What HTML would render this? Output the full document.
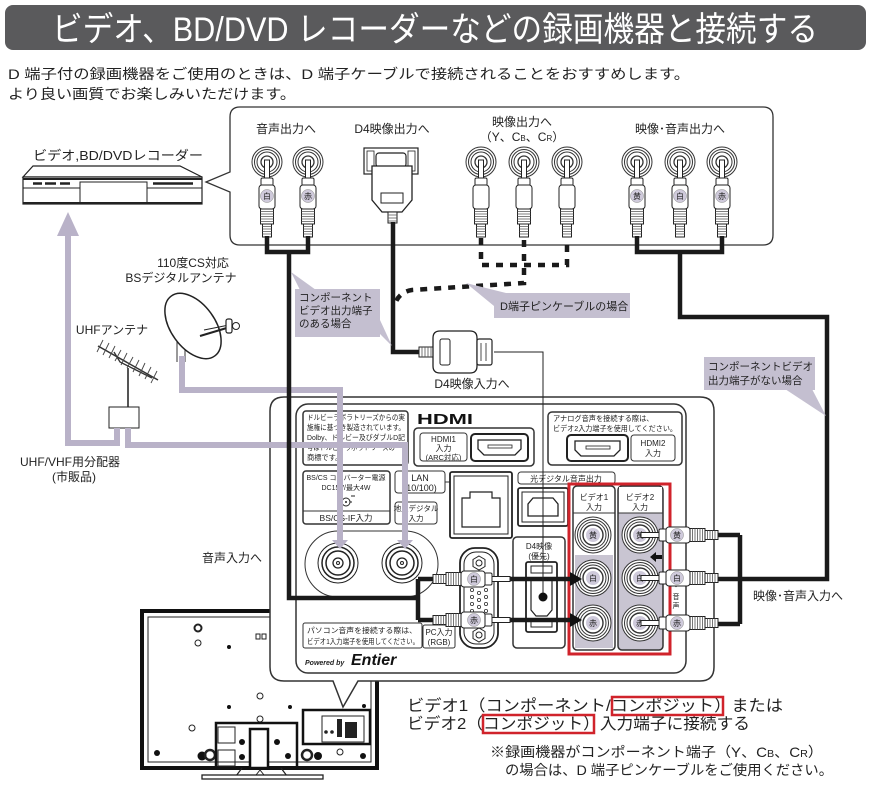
<!DOCTYPE html>
<html><head><meta charset="utf-8"><style>
html,body{margin:0;padding:0;background:#fff;}
svg{display:block;}
text{font-family:"Liberation Sans","Noto Sans CJK JP",sans-serif;fill:#222;}
</style></head><body>
<svg xmlns="http://www.w3.org/2000/svg" xmlns:xlink="http://www.w3.org/1999/xlink" width="872" height="805" viewBox="0 0 872 805">
<defs>
<g id="plug">
 <rect x="-2.5" y="-2" width="5" height="20" fill="#fff" stroke="#222" stroke-width="1"/>
 <rect x="-6" y="16" width="12" height="8" rx="1.5" fill="#fff" stroke="#222"/>
 <rect x="-8" y="23" width="16" height="24" rx="3" fill="#fff" stroke="#222"/>
 <rect x="-6.5" y="47" width="13" height="15" fill="#fff" stroke="#222"/>
 <path d="M-6.5,49.5H6.5M-6.5,52H6.5M-6.5,54.5H6.5M-6.5,57H6.5M-6.5,59.5H6.5" stroke="#555" stroke-width="0.8"/>
 <rect x="-4.5" y="62" width="9" height="13" fill="#fff" stroke="#222"/>
 <path d="M-4.5,64.5H4.5M-4.5,67H4.5M-4.5,69.5H4.5M-4.5,72H4.5" stroke="#555" stroke-width="0.8"/>
</g>
<g id="jk">
 <circle r="15" fill="#fff" stroke="#333" stroke-width="1"/>
 <circle r="12.5" fill="none" stroke="#333" stroke-width="1"/>
 <circle r="10" fill="none" stroke="#333" stroke-width="1"/>
 <circle r="6" fill="#fff" stroke="#333" stroke-width="1.3"/>
</g>
<g id="tj">
 <circle r="18" fill="#fff" stroke="#333" stroke-width="1"/>
 <circle r="15.5" fill="none" stroke="#333" stroke-width="1"/>
 <circle r="13" fill="none" stroke="#333" stroke-width="1"/>
 <circle r="10" fill="#fff" stroke="#333" stroke-width="1.4"/>
 <circle r="7" fill="#cfcadb"/>
</g>
<g id="lbl"><circle r="6.5" fill="#cfcadb" stroke="#888" stroke-width="0.5"/></g>
</defs>

<!-- Title -->
<rect x="5" y="5" width="861" height="45" rx="8" fill="#5a5a5c"/>
<text x="52" y="41" font-size="34" style="fill:#fff" textLength="766" lengthAdjust="spacingAndGlyphs">ビデオ、BD/DVD レコーダーなどの録画機器と接続する</text>
<text x="8" y="79" font-size="14" textLength="682" lengthAdjust="spacingAndGlyphs">D 端子付の録画機器をご使用のときは、D 端子ケーブルで接続されることをおすすめします。</text>
<text x="8" y="99" font-size="14" textLength="288" lengthAdjust="spacingAndGlyphs">より良い画質でお楽しみいただけます。</text>

<!-- Recorder -->
<text x="33" y="160" font-size="13" textLength="170" lengthAdjust="spacingAndGlyphs">ビデオ,BD/DVDレコーダー</text>
<polygon points="33,166 180,166 202,177 23,177" fill="#fff" stroke="#222" stroke-width="1.2"/>
<rect x="23" y="177" width="179" height="27" fill="#fff" stroke="#222" stroke-width="1.2"/>
<line x1="23" y1="179" x2="202" y2="179" stroke="#222" stroke-width="2"/>
<line x1="23" y1="188" x2="80" y2="188" stroke="#222" stroke-width="1"/>
<line x1="147" y1="188" x2="202" y2="188" stroke="#222" stroke-width="1"/>
<rect x="80" y="182" width="67" height="22" fill="none" stroke="#222" stroke-width="1"/>
<path d="M33,183.5H42M45,183.5H56M60,183.5H70M153,183.5H193" stroke="#222" stroke-width="2.5"/>
<line x1="23" y1="203" x2="202" y2="203" stroke="#222" stroke-width="2"/>

<!-- Top callout box -->
<path d="M240,107 H763 Q773,107 773,117 V235 Q773,245 763,245 H240 Q230,245 230,235 V192 L206,182 L230,172 V117 Q230,107 240,107 Z" fill="#fff" stroke="#333" stroke-width="1.3"/>
<text x="286" y="133" font-size="12" text-anchor="middle">音声出力へ</text>
<text x="392" y="133" font-size="12" text-anchor="middle">D4映像出力へ</text>
<text x="522" y="126" font-size="12" text-anchor="middle">映像出力へ</text>
<text x="522" y="141" font-size="12" text-anchor="middle">（Y、C<tspan font-size="8">B</tspan>、C<tspan font-size="8">R</tspan>）</text>
<text x="680" y="133" font-size="12" text-anchor="middle">映像･音声出力へ</text>

<use xlink:href="#jk" transform="translate(267,162)"/>
<use xlink:href="#jk" transform="translate(308,162)"/>
<use xlink:href="#jk" transform="translate(481,162)"/>
<use xlink:href="#jk" transform="translate(524,162)"/>
<use xlink:href="#jk" transform="translate(567,162)"/>
<use xlink:href="#jk" transform="translate(637,162)"/>
<use xlink:href="#jk" transform="translate(680,162)"/>
<use xlink:href="#jk" transform="translate(722,162)"/>
<use xlink:href="#plug" transform="translate(267,162)"/>
<use xlink:href="#plug" transform="translate(308,162)"/>
<use xlink:href="#plug" transform="translate(481,162)"/>
<use xlink:href="#plug" transform="translate(524,162)"/>
<use xlink:href="#plug" transform="translate(567,162)"/>
<use xlink:href="#plug" transform="translate(637,162)"/>
<use xlink:href="#plug" transform="translate(680,162)"/>
<use xlink:href="#plug" transform="translate(722,162)"/>
<use xlink:href="#lbl" transform="translate(267,196)"/>
<use xlink:href="#lbl" transform="translate(308,196)"/>
<use xlink:href="#lbl" transform="translate(637,196)"/>
<use xlink:href="#lbl" transform="translate(680,196)"/>
<use xlink:href="#lbl" transform="translate(722,196)"/>
<g font-size="8" text-anchor="middle">
<text x="267" y="199">白</text><text x="308" y="199">赤</text>
<text x="637" y="199">黄</text><text x="680" y="199">白</text><text x="722" y="199">赤</text>
</g>

<!-- D4 plug top -->
<rect x="364" y="148" width="54" height="26" fill="#fff" stroke="#222" stroke-width="1.2"/>
<rect x="367" y="151" width="7" height="20" fill="none" stroke="#222" stroke-width="0.8"/>
<rect x="408" y="151" width="7" height="20" fill="none" stroke="#222" stroke-width="0.8"/>
<rect x="376" y="153" width="30" height="14" rx="3" fill="#fff" stroke="#222" stroke-width="1.2"/>
<path d="M372,166 H412 V200 L402,212 H382 L372,200 Z" fill="#fff" stroke="#222" stroke-width="1.3"/>
<rect x="381" y="193" width="22" height="10" fill="none" stroke="#222" stroke-width="1"/>
<rect x="388" y="212" width="9" height="11" fill="#fff" stroke="#222" stroke-width="1"/>
<path d="M388,215H397M388,218H397M388,221H397" stroke="#555" stroke-width="0.8"/>

<!-- Antennas -->
<text x="193" y="267" font-size="12" text-anchor="middle">110度CS対応</text>
<text x="181" y="282" font-size="12" text-anchor="middle">BSデジタルアンテナ</text>
<text x="112" y="334" font-size="12" text-anchor="middle">UHFアンテナ</text>
<line x1="177" y1="340" x2="177" y2="362" stroke="#333" stroke-width="1"/>
<line x1="185" y1="338" x2="185" y2="362" stroke="#333" stroke-width="1"/>
<ellipse cx="193" cy="326" rx="22" ry="37" transform="rotate(-36 193 326)" fill="#fff" stroke="#222" stroke-width="1.5"/>
<line x1="200" y1="336" x2="230" y2="327" stroke="#222" stroke-width="2"/>
<line x1="204" y1="330" x2="229" y2="325" stroke="#222" stroke-width="1"/>
<rect x="226" y="319" width="6" height="14" rx="2" fill="#fff" stroke="#222" stroke-width="1.2"/>
<circle cx="236" cy="326" r="3.5" fill="#fff" stroke="#222" stroke-width="1"/>
<!-- UHF antenna -->
<line x1="98" y1="346" x2="158" y2="380" stroke="#333" stroke-width="1.5"/>
<path d="M114,352 L120,362 L152,378" fill="none" stroke="#333" stroke-width="1.3"/>
<g stroke="#444" stroke-width="0.9">
<line x1="97" y1="352" x2="103" y2="340"/><line x1="103" y1="355" x2="109" y2="343"/><line x1="109" y1="358" x2="115" y2="346"/><line x1="115" y1="361" x2="121" y2="350"/><line x1="121" y1="365" x2="127" y2="353"/><line x1="127" y1="368" x2="133" y2="357"/><line x1="133" y1="372" x2="139" y2="360"/><line x1="139" y1="376" x2="145" y2="363"/><line x1="145" y1="379" x2="151" y2="367"/><line x1="151" y1="383" x2="157" y2="371"/>
</g>
<line x1="128" y1="368" x2="128" y2="407" stroke="#555" stroke-width="2"/>
<rect x="109" y="407" width="30" height="21" fill="#fff" stroke="#222" stroke-width="1"/>
<text x="70" y="466" font-size="12" text-anchor="middle">UHF/VHF用分配器</text>
<text x="74" y="481" font-size="12" text-anchor="middle">(市販品)</text>

<!-- TV back -->
<rect x="142" y="611" width="235" height="157" fill="#fff" stroke="#111" stroke-width="4"/>
<rect x="148" y="617" width="223" height="145" fill="none" stroke="#222" stroke-width="1"/>
<g fill="#111">
<circle cx="229" cy="647" r="2"/><circle cx="229" cy="707" r="2"/><circle cx="290" cy="707" r="2"/><circle cx="364" cy="706" r="2"/>
<circle cx="157" cy="753" r="3"/><circle cx="202" cy="756" r="4.5"/><circle cx="242" cy="757" r="3"/><circle cx="242" cy="742" r="3"/>
<circle cx="277" cy="742" r="3"/><circle cx="288" cy="756" r="3"/><circle cx="318" cy="756" r="4"/><circle cx="363" cy="756" r="3"/>
</g>
<g fill="none" stroke="#222">
<circle cx="198" cy="628" r="3.5" stroke-width="2"/><circle cx="198" cy="643" r="3"/><circle cx="260" cy="696" r="3"/>
<circle cx="192" cy="728" r="3"/><circle cx="260" cy="719" r="3"/><circle cx="210" cy="755" r="5" stroke-width="2.5"/>
<circle cx="307" cy="755" r="5" stroke-width="2.5"/><circle cx="340" cy="752" r="3"/>
</g>
<rect x="256" y="634" width="4" height="5" fill="none" stroke="#222"/><rect x="262" y="634" width="4" height="5" fill="none" stroke="#222"/>
<rect x="216" y="723" width="81" height="45" fill="none" stroke="#111" stroke-width="2.5"/>
<rect x="250" y="729" width="18" height="39" fill="#fff" stroke="#111" stroke-width="2.5"/>
<rect x="218" y="727" width="17" height="16" fill="none" stroke="#222" stroke-width="1"/>
<rect x="218" y="750" width="17" height="16" fill="none" stroke="#222" stroke-width="1"/>
<rect x="303" y="710" width="67" height="34" fill="#fff" stroke="#111" stroke-width="2.5"/>
<rect x="322" y="716" width="42" height="26" fill="none" stroke="#222" stroke-width="1"/>
<rect x="337" y="719" width="5" height="18" fill="#222"/><rect x="345" y="722" width="12" height="16" fill="#222"/>
<circle cx="326" cy="732" r="1.8" fill="#222"/><circle cx="332" cy="732" r="1.8" fill="#222"/>
<path d="M242,768 L236,776 M281,768 L287,776" stroke="#222" stroke-width="1.2"/>
<rect x="202" y="775" width="121" height="4" fill="#fff" stroke="#222" stroke-width="1.3"/>
<path d="M256,775 L260,770 L264,775" fill="none" stroke="#222" stroke-width="1"/>

<!-- TV panel callout -->
<path d="M284,397 H700 Q714,397 714,411 V667 Q714,681 700,681 H358 L343,707 L333,681 H284 Q270,681 270,667 V411 Q270,397 284,397 Z" fill="#fff" stroke="#333" stroke-width="1.5"/>
<rect x="296" y="404" width="390" height="269" rx="12" fill="#fff" stroke="#333" stroke-width="1.5"/>

<!-- Dolby box -->
<rect x="303" y="411" width="105" height="54" rx="3" fill="#fff" stroke="#333" stroke-width="1.5"/>
<g font-size="7.2">
<text x="307" y="420" textLength="98" lengthAdjust="spacingAndGlyphs">ドルビーラボラトリーズからの実</text>
<text x="307" y="430" textLength="98" lengthAdjust="spacingAndGlyphs">施権に基づき製造されています。</text>
<text x="307" y="440" textLength="98" lengthAdjust="spacingAndGlyphs">Dolby、ドルビー及びダブルD記</text>
<text x="307" y="450" textLength="88" lengthAdjust="spacingAndGlyphs">号はドルビーラボラトリーズの</text>
<text x="307" y="460">商標です。</text>
</g>
<text x="417" y="424" font-size="15" font-weight="bold" textLength="56" lengthAdjust="spacingAndGlyphs" style="fill:#111">HDMI</text>
<rect x="414" y="428" width="120" height="38" rx="4" fill="#fff" stroke="#333" stroke-width="1.5"/>
<rect x="420" y="433" width="47" height="28" rx="3" fill="#fff" stroke="#333" stroke-width="1"/>
<g font-size="8" text-anchor="middle">
<text x="443.5" y="442">HDMI1</text><text x="443.5" y="451">入力</text><text x="443.5" y="460" font-size="7.5">(ARC対応)</text>
</g>
<rect x="471" y="434" width="57" height="27" rx="4" fill="#fff" stroke="#222" stroke-width="2"/>
<path d="M478,440 H521 V449 L515,455 H484 L478,449 Z" fill="none" stroke="#222" stroke-width="1.3"/>
<rect x="488" y="445" width="24" height="3" fill="none" stroke="#222" stroke-width="0.8"/>

<rect x="548" y="412" width="134" height="53" rx="4" fill="#fff" stroke="#333" stroke-width="1.5"/>
<text x="553" y="421" font-size="7.2">アナログ音声を接続する際は、</text>
<text x="553" y="431" font-size="7.2" textLength="124" lengthAdjust="spacingAndGlyphs">ビデオ2入力端子を使用してください。</text>
<rect x="567" y="435" width="61" height="26" rx="4" fill="#fff" stroke="#222" stroke-width="2"/>
<path d="M575,441 H620 V450 L614,456 H581 L575,450 Z" fill="none" stroke="#222" stroke-width="1.3"/>
<rect x="586" y="446" width="24" height="3" fill="none" stroke="#222" stroke-width="0.8"/>
<rect x="631" y="435" width="44" height="26" rx="3" fill="#fff" stroke="#333" stroke-width="1"/>
<g font-size="8" text-anchor="middle"><text x="653" y="446">HDMI2</text><text x="653" y="456">入力</text></g>

<!-- BS/CS -->
<rect x="303" y="471" width="87" height="53" rx="3" fill="#fff" stroke="#333" stroke-width="1.5"/>
<g text-anchor="middle">
<text x="346" y="480" font-size="7">BS/CS コンバーター電源</text>
<text x="346" y="490" font-size="7">DC15V/最大4W</text>
<text x="346" y="521" font-size="8.5">BS/CS-IF入力</text>
</g>
<line x1="303" y1="511" x2="390" y2="511" stroke="#333" stroke-width="1"/>
<circle cx="346" cy="502" r="4" fill="#fff" stroke="#222" stroke-width="1"/><circle cx="346" cy="502" r="1" fill="#222"/>
<path d="M337,497H341M339,495V499M351,496H355M340,502H342M350,502H352" stroke="#222" stroke-width="0.9"/>

<rect x="395" y="471" width="50" height="22" rx="3" fill="#fff" stroke="#333" stroke-width="1"/>
<g text-anchor="middle" font-size="9"><text x="420" y="481">LAN</text><text x="420" y="491">(10/100)</text></g>
<line x1="445" y1="482" x2="450" y2="482" stroke="#333"/>
<rect x="395" y="502" width="42" height="22" rx="3" fill="#fff" stroke="#333" stroke-width="1"/>
<g text-anchor="middle" font-size="7.5"><text x="416" y="511">地上デジタル</text><text x="416" y="521">入力</text></g>
<rect x="450" y="472" width="62" height="66" rx="2" fill="#fff" stroke="#222" stroke-width="1.8"/>
<rect x="454" y="476" width="54" height="58" fill="none" stroke="#222" stroke-width="1"/>
<path d="M462,498 H470 V492 H492 V498 H500 V527 H462 Z" fill="none" stroke="#222" stroke-width="1.2"/>

<rect x="518" y="472" width="97" height="12" rx="3" fill="#fff" stroke="#333" stroke-width="1"/>
<text x="566" y="481.5" font-size="8" text-anchor="middle">光デジタル音声出力</text>
<rect x="518" y="488" width="50" height="38" rx="2" fill="#fff" stroke="#222" stroke-width="1.8"/>
<rect x="522" y="492" width="42" height="30" fill="none" stroke="#222" stroke-width="1"/>
<path d="M533,498 H553 L558,504 V516 H528 V504 Z" fill="none" stroke="#222" stroke-width="1.3"/>

<!-- Coax -->
<rect x="305" y="531" width="133" height="66" rx="33" fill="#fff" stroke="#333" stroke-width="1"/>
<g fill="none" stroke="#222">
<circle cx="338" cy="563" r="20" stroke-width="1"/><circle cx="338" cy="563" r="16" stroke-width="1.5"/><circle cx="338" cy="563" r="12" stroke-width="1.5"/><circle cx="338" cy="563" r="5" stroke-width="1.3"/><circle cx="338" cy="563" r="1.5" stroke-width="1"/>
<circle cx="402" cy="563" r="20" stroke-width="1"/><circle cx="402" cy="563" r="16" stroke-width="1.5"/><circle cx="402" cy="563" r="12" stroke-width="1.5"/><circle cx="402" cy="563" r="5" stroke-width="1.3"/><circle cx="402" cy="563" r="1.5" stroke-width="1"/>
</g>

<!-- VGA -->
<rect x="460" y="548" width="38" height="100" rx="15" fill="#fff" stroke="#222" stroke-width="1.8"/>
<rect x="464" y="552" width="30" height="92" rx="12" fill="none" stroke="#222" stroke-width="1"/>
<polygon points="479,556 485,559.5 485,566.5 479,570 473,566.5 473,559.5" fill="#fff" stroke="#222"/>
<circle cx="479" cy="563" r="3" fill="none" stroke="#222"/>
<polygon points="479,628 485,631.5 485,638.5 479,642 473,638.5 473,631.5" fill="#fff" stroke="#222"/>
<circle cx="479" cy="635" r="3" fill="none" stroke="#222"/>
<g fill="none" stroke="#333" stroke-width="0.8">
<circle cx="472" cy="590" r="1.6"/><circle cx="472" cy="597" r="1.6"/><circle cx="472" cy="604" r="1.6"/><circle cx="472" cy="611" r="1.6"/>
<circle cx="479" cy="593" r="1.6"/><circle cx="479" cy="600" r="1.6"/><circle cx="479" cy="607" r="1.6"/><circle cx="479" cy="614" r="1.6"/>
<circle cx="486" cy="590" r="1.6"/><circle cx="486" cy="597" r="1.6"/><circle cx="486" cy="604" r="1.6"/><circle cx="486" cy="611" r="1.6"/>
</g>

<!-- D4 input box -->
<rect x="513" y="537" width="52" height="111" rx="4" fill="#fff" stroke="#333" stroke-width="1.5"/>
<g text-anchor="middle" font-size="8"><text x="539" y="549">D4映像</text><text x="539" y="559">(優先)</text></g>
<rect x="526" y="562" width="31" height="70" rx="2" fill="#fff" stroke="#222" stroke-width="1.8"/>
<rect x="531" y="566" width="21" height="7" fill="none" stroke="#222" stroke-width="1"/>
<rect x="531" y="620" width="21" height="7" fill="none" stroke="#222" stroke-width="1"/>
<path d="M531,579 H552 V610 L547,616 H536 L531,610 Z" fill="none" stroke="#222" stroke-width="1.2"/>

<!-- bottom boxes -->
<rect x="303" y="623" width="119" height="25" rx="2" fill="#fff" stroke="#333" stroke-width="1"/>
<text x="307" y="633" font-size="7.2" textLength="110" lengthAdjust="spacingAndGlyphs">パソコン音声を接続する際は、</text>
<text x="307" y="644" font-size="7.2" textLength="112" lengthAdjust="spacingAndGlyphs">ビデオ1入力端子を使用してください。</text>
<rect x="423" y="625" width="32" height="23" rx="2" fill="#fff" stroke="#333" stroke-width="1"/>
<g text-anchor="middle" font-size="8"><text x="439" y="635">PC入力</text><text x="439" y="645">(RGB)</text></g>
<text x="305" y="665" font-size="7" font-weight="bold" font-style="italic">Powered by</text>
<text x="351" y="665" font-size="16" font-weight="bold" font-style="italic" style="fill:#111">Entier</text>

<!-- Video1/2 panels -->
<rect x="573" y="486" width="42" height="164" rx="4" fill="#fff" stroke="#333" stroke-width="1.5"/>
<rect x="575" y="555" width="38" height="93" fill="#c9c5d2"/>
<line x1="573" y1="513" x2="615" y2="513" stroke="#333" stroke-width="1"/>
<rect x="618" y="486" width="45" height="164" rx="4" fill="#c9c5d2" stroke="#333" stroke-width="1.5"/>
<rect x="619" y="487" width="43" height="26" fill="#fff"/>
<line x1="618" y1="513" x2="663" y2="513" stroke="#333" stroke-width="1"/>
<g text-anchor="middle" font-size="8">
<text x="594" y="500">ビデオ1</text><text x="594" y="510">入力</text>
<text x="640" y="500">ビデオ2</text><text x="640" y="510">入力</text>
</g>
<use xlink:href="#tj" transform="translate(593,535)"/>
<use xlink:href="#tj" transform="translate(593,578)"/>
<use xlink:href="#tj" transform="translate(593,623)"/>
<use xlink:href="#tj" transform="translate(640,535)"/>
<use xlink:href="#tj" transform="translate(640,578)"/>
<use xlink:href="#tj" transform="translate(640,623)"/>
<g font-size="8" text-anchor="middle">
<text x="593" y="538">黄</text><text x="593" y="581">白</text><text x="593" y="626">赤</text>
<text x="640" y="538">黄</text><text x="640" y="581">白</text><text x="640" y="626">赤</text>
</g>
<polygon points="650,557 656,552 656,555 662,555 662,559 656,559 656,562" fill="#111"/>
<g font-size="7" text-anchor="middle"><text x="676" y="589">･</text><text x="676" y="599">音</text><text x="676" y="608">声</text></g>

<!-- Red box -->
<rect x="569" y="484" width="101" height="170" fill="none" stroke="#d0232b" stroke-width="3"/>

<!-- Lavender cables -->
<g fill="none" stroke="#b9b2c8" stroke-width="6">
<path d="M117,428 V443 H68 V232"/>
<path d="M128,428 V445 H405 V542"/>
<path d="M182,356 V390 H340 V542"/>
</g>
<polygon points="57,236 79,236 68,212" fill="#b9b2c8"/>
<polygon points="332,540 348,540 340,549" fill="#b9b2c8"/>
<polygon points="397,540 413,540 405,549" fill="#b9b2c8"/>

<!-- Black cables -->
<g fill="none" stroke="#1a1a1a" stroke-width="4.5" stroke-linejoin="miter">
<path d="M267,236 V252 H308 V236 M289,252 V598 H418 M418,579 V620 M418,579 H436 M418,620 H436"/>
<path d="M393,222 V352 H420"/>
<path d="M637,236 V252 H722 V236 M680,252 V317 H827 V579 H740 M740,535 V624 M740,535 H716 M740,579 H716 M740,624 H716"/>
<path d="M510,579 H572 M510,620 H572"/>
</g>
<polygon points="570,572 570,586 582,579" fill="#111"/>
<polygon points="570,613 570,627 582,620" fill="#111"/>
<path d="M481,238 V265 H567 V238 M524,240 V283 L412,290 Q399,292 395,304" fill="none" stroke="#1a1a1a" stroke-width="4.5" stroke-dasharray="7,7"/>

<!-- PC audio plugs -->
<use xlink:href="#plug" transform="translate(508,579) rotate(90)"/>
<use xlink:href="#plug" transform="translate(508,620) rotate(90)"/>
<use xlink:href="#lbl" transform="translate(474,579)"/>
<use xlink:href="#lbl" transform="translate(474,620)"/>
<g font-size="8" text-anchor="middle"><text x="474" y="582">白</text><text x="474" y="623">赤</text></g>

<!-- Composite plugs into Video2 -->
<use xlink:href="#plug" transform="translate(643,535) rotate(-90)"/>
<use xlink:href="#plug" transform="translate(643,578) rotate(-90)"/>
<use xlink:href="#plug" transform="translate(643,623) rotate(-90)"/>
<use xlink:href="#lbl" transform="translate(677,535)"/>
<use xlink:href="#lbl" transform="translate(677,578)"/>
<use xlink:href="#lbl" transform="translate(677,623)"/>
<g font-size="8" text-anchor="middle"><text x="677" y="538">黄</text><text x="677" y="581">白</text><text x="677" y="626">赤</text></g>

<!-- D4 input plug -->
<rect x="419" y="347" width="14" height="10" fill="#fff" stroke="#222" stroke-width="1"/>
<path d="M422,347V357M425,347V357M428,347V357M431,347V357" stroke="#555" stroke-width="0.8"/>
<path d="M433,338 Q433,331 440,331 H470 Q477,331 477,338 V366 Q477,373 470,373 H440 Q433,373 433,366 Z" fill="#fff" stroke="#222" stroke-width="1.3"/>
<rect x="440" y="339" width="10" height="26" rx="2" fill="none" stroke="#222" stroke-width="1"/>
<rect x="477" y="339" width="15" height="26" rx="2" fill="#fff" stroke="#222" stroke-width="1.2"/>
<path d="M481,343V361M486,343V361" stroke="#222" stroke-width="0.8"/>
<path d="M494,352 H543 V597" fill="none" stroke="#222" stroke-width="1"/>
<circle cx="543" cy="597" r="4.5" fill="#111"/>
<text x="472" y="388" font-size="12" text-anchor="middle">D4映像入力へ</text>

<!-- Callouts -->
<g fill="#c4bfd0">
<rect x="295" y="289" width="85" height="48"/>
<polygon points="300,290 316,290 291,272"/>
<polygon points="380,320 380,334 392,346"/>
<rect x="494" y="293" width="136" height="25"/>
<polygon points="466,283 510,294 494,306"/>
<rect x="704" y="357" width="111" height="33"/>
<polygon points="785,389 812,389 826,416"/>
</g>
<g font-size="10.5" style="fill:#333">
<text x="299" y="301">コンポーネント</text>
<text x="299" y="314">ビデオ出力端子</text>
<text x="299" y="327">のある場合</text>
<text x="500" y="310" font-size="11">D端子ピンケーブルの場合</text>
<text x="708" y="370">コンポーネントビデオ</text>
<text x="708" y="384">出力端子がない場合</text>
</g>

<text x="232" y="562" font-size="12" text-anchor="middle">音声入力へ</text>
<text x="798" y="600" font-size="12" text-anchor="middle">映像･音声入力へ</text>

<!-- Bottom text -->
<text x="407" y="711" font-size="16" textLength="376" lengthAdjust="spacingAndGlyphs">ビデオ1（コンポーネント/コンポジット）または</text>
<text x="407" y="729" font-size="16" textLength="343" lengthAdjust="spacingAndGlyphs">ビデオ2（コンポジット）入力端子に接続する</text>
<rect x="612" y="697" width="111" height="18" fill="none" stroke="#d0232b" stroke-width="2.5"/>
<rect x="483" y="715" width="111" height="18" fill="none" stroke="#d0232b" stroke-width="2.5"/>
<text x="490" y="757" font-size="14" textLength="333" lengthAdjust="spacingAndGlyphs">※録画機器がコンポーネント端子（Y、C<tspan font-size="10">B</tspan>、C<tspan font-size="10">R</tspan>）</text>
<text x="505" y="775" font-size="14" textLength="328" lengthAdjust="spacingAndGlyphs">の場合は、D 端子ピンケーブルをご使用ください。</text>
</svg>
</body></html>
